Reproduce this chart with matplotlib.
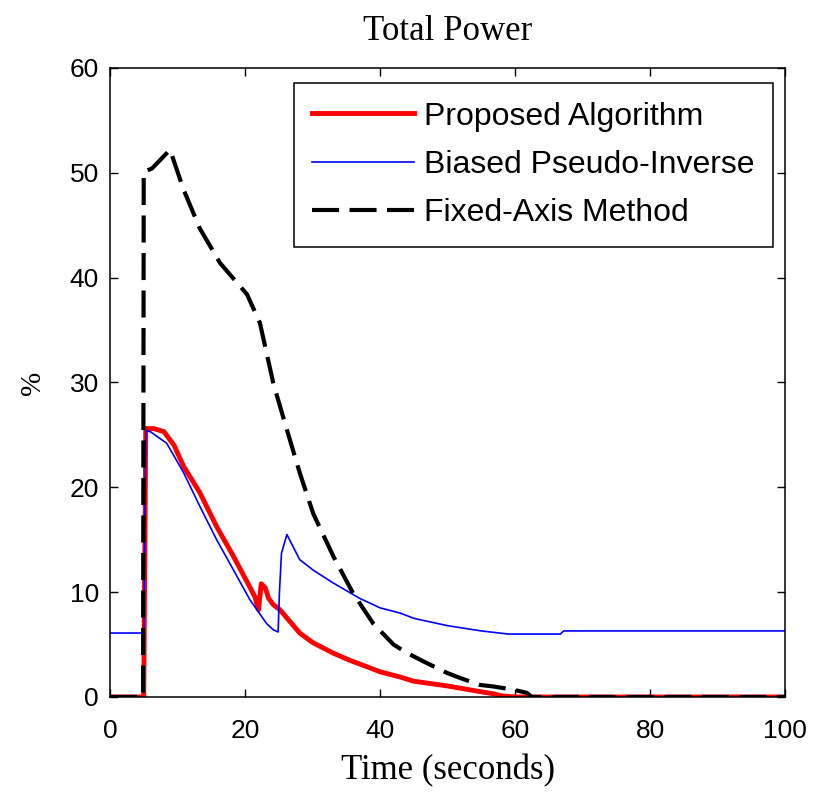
import numpy as np
import matplotlib
matplotlib.use("Agg")
import matplotlib.pyplot as plt

# Proposed Algorithm (red)
t_prop = [0, 5.0, 5.3, 6.5, 8.0, 9.5, 10.9, 13.3, 15.8, 18.3, 20.7, 21.5, 22.0, 22.4, 23.0, 23.5,
          24.2, 25.2, 28.1, 30.0, 33.0, 35.5, 38.0, 40.0, 43.0, 45.0, 50.0, 54.0, 56.8, 58.0, 60.0, 100]
y_prop = [0, 0, 25.6, 25.6, 25.3, 24.0, 22.0, 19.5, 16.25, 13.4, 10.5, 9.5, 8.3, 10.8, 10.4, 9.4,
          8.8, 8.3, 6.1, 5.2, 4.2, 3.5, 2.9, 2.4, 1.9, 1.5, 1.05, 0.6, 0.3, 0.1, 0, 0]

# Biased Pseudo-Inverse (blue)
t_bpi = [0, 5.0, 5.3, 6.0, 8.4, 10.9, 13.3, 15.8, 18.3, 20.7, 23.2, 24.2, 24.9, 25.1, 25.4, 26.2,
         28.1, 30.1, 33.0, 37.0, 40.0, 43.0, 45.0, 50.0, 55.0, 59.0, 66.7, 67.2, 100]
y_bpi = [6.1, 6.1, 25.4, 25.3, 24.2, 21.4, 18.2, 15.0, 12.1, 9.3, 7.0, 6.4, 6.2, 10.0, 13.7, 15.5,
         13.1, 12.1, 10.9, 9.4, 8.5, 8.0, 7.5, 6.8, 6.3, 6.0, 6.0, 6.3, 6.3]

# Fixed-Axis Method (black dashed)
t_fix = [0, 4.9, 5.0, 6.2, 8.9, 10.9, 13.3, 16.3, 20.3, 22.2, 24.2, 26.2, 28.1, 30.1, 33.1, 36.0,
         39.0, 40.5, 42.0, 44.0, 46.4, 49.9, 51.9, 54.8, 56.8, 59.7, 61.7, 62.5, 100]
y_fix = [0, 0, 50.1, 50.4, 52.2, 48.4, 44.7, 41.4, 38.4, 35.7, 29.9, 25.5, 21.4, 17.5, 13.4, 9.9,
         7.0, 6.0, 5.0, 4.2, 3.4, 2.3, 1.8, 1.15, 1.0, 0.7, 0.4, 0, 0]

sans = "Liberation Sans"
serif = "Liberation Serif"

fig = plt.figure(figsize=(8.17, 7.94), dpi=100)
ax = fig.add_axes([0.1346, 0.1222, 0.8264, 0.7922])

ax.plot(t_prop, y_prop, color="red", linewidth=3.5, label="Proposed Algorithm")
ax.plot(t_bpi, y_bpi, color="blue", linewidth=1.2, label="Biased Pseudo-Inverse")
ax.plot(t_fix, y_fix, color="black", linewidth=3.0, dashes=(6.5, 2.5), label="Fixed-Axis Method")

ax.set_xlim(0, 100)
ax.set_ylim(0, 60)
ax.set_xticks([0, 20, 40, 60, 80, 100])
ax.set_yticks([0, 10, 20, 30, 40, 50, 60])
ax.tick_params(direction="in", length=6, width=1, top=True, right=True, pad=8)
ax.tick_params(axis="x", pad=16)
for lab in ax.get_xticklabels() + ax.get_yticklabels():
    lab.set_fontfamily(sans)
    lab.set_fontsize(19)
for s in ax.spines.values():
    s.set_linewidth(1.1)

ax.set_title("Total Power", fontfamily=serif, fontsize=25, pad=20)
ax.set_xlabel("Time (seconds)", fontfamily=serif, fontsize=25, labelpad=8)
ax.set_ylabel("%", fontfamily=serif, fontsize=21, labelpad=17)

leg = ax.legend(loc="upper right", bbox_to_anchor=(0.982, 0.976), prop={"family": sans, "size": 23},
                fancybox=False, edgecolor="black", framealpha=1, handlelength=3.2,
                handletextpad=0.3, borderpad=0.58, labelspacing=0.57, borderaxespad=0)
leg.get_frame().set_linewidth(1.1)

fig.savefig("out.png", dpi=100)
